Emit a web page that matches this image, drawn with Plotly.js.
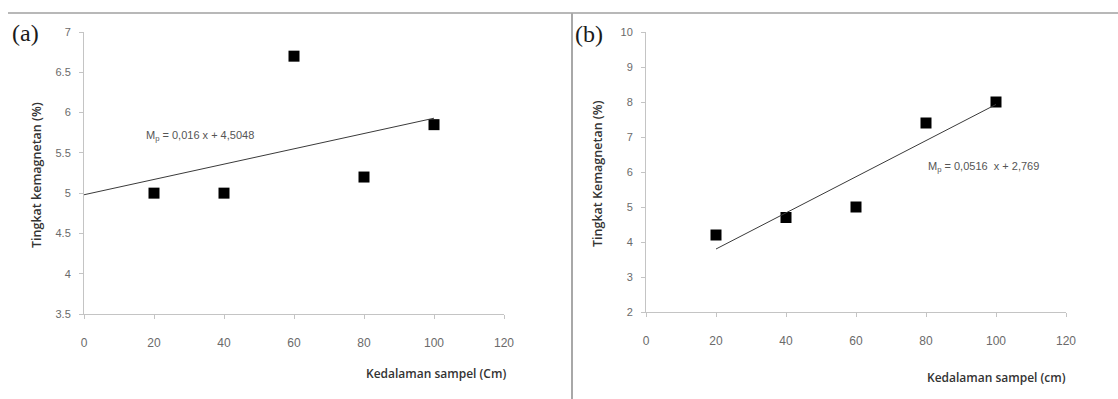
<!DOCTYPE html>
<html>
<head>
<meta charset="utf-8">
<script src="https://cdn.plot.ly/plotly-3.0.1.min.js"></script>
<style>html,body{margin:0;padding:0;background:#fff;}#chart{width:1118px;height:399px;}</style>
</head>
<body>
<div id="chart"></div>
<script>
// Panel (a)
const depthA = [20, 40, 60, 80, 100];
const magA = [5.0, 5.0, 6.7, 5.2, 5.85];
const trendAx = [0, 100];
const trendAy = [4.98, 5.93];
// Panel (b)
const depthB = [20, 40, 60, 80, 100];
const magB = [4.2, 4.7, 5.0, 7.4, 8.0];
const trendBx = [20, 100];
const trendBy = [3.80, 7.93];

const W = 1118, H = 399;
const px = v => v / W;
const py = v => 1 - v / H;

const tickFont = {family: 'Liberation Sans, Arial, sans-serif', size: 11, color: '#6a6a6a'};
const titleFont = {family: 'Open Sans, sans-serif', size: 12, color: '#333', weight: 600};

const traces = [
  {x: depthA, y: magA, mode: 'markers', type: 'scatter', xaxis: 'x', yaxis: 'y',
   marker: {symbol: 'square', size: 11, color: '#000'}},
  {x: trendAx, y: trendAy, mode: 'lines', type: 'scatter', xaxis: 'x', yaxis: 'y',
   line: {color: '#3a3a3a', width: 1}},
  {x: depthB, y: magB, mode: 'markers', type: 'scatter', xaxis: 'x2', yaxis: 'y2',
   marker: {symbol: 'square', size: 11, color: '#000'}},
  {x: trendBx, y: trendBy, mode: 'lines', type: 'scatter', xaxis: 'x2', yaxis: 'y2',
   line: {color: '#3a3a3a', width: 1}}
];

const axBase = {showline: true, linecolor: '#c4c4c4', linewidth: 1, showgrid: false, zeroline: false,
  ticks: 'outside', ticklen: 4, tickcolor: '#c4c4c4', tickfont: tickFont};
const xBase = Object.assign({}, axBase, {ticklabelstandoff: 14, tickfont: Object.assign({}, tickFont, {size: 12})});
const yBase = Object.assign({}, axBase, {ticklabelstandoff: 6});

const layout = {
  width: W, height: H,
  margin: {l: 0, r: 0, t: 0, b: 0},
  paper_bgcolor: '#fff', plot_bgcolor: '#fff',
  showlegend: false,
  xaxis: Object.assign({}, xBase, {domain: [px(84), px(504)], range: [0, 120], dtick: 20, anchor: 'y'}),
  yaxis: Object.assign({}, yBase, {domain: [py(314), py(32)], range: [3.5, 7], dtick: 0.5, anchor: 'x'}),
  xaxis2: Object.assign({}, xBase, {domain: [px(646), px(1066)], range: [0, 120], dtick: 20, anchor: 'y2'}),
  yaxis2: Object.assign({}, yBase, {domain: [py(312), py(32)], range: [2, 10], dtick: 1, anchor: 'x2'}),
  shapes: [
    {type: 'line', xref: 'paper', yref: 'paper', x0: px(8), x1: 1, y0: py(13), y1: py(13),
     line: {color: '#b8b8b8', width: 2}},
    {type: 'line', xref: 'paper', yref: 'paper', x0: px(572), x1: px(572), y0: py(13), y1: 0,
     line: {color: '#a8a8a8', width: 2}}
  ],
  annotations: [
    {text: '(a)', xref: 'paper', yref: 'paper', x: px(10), y: py(33), xanchor: 'left', yanchor: 'middle',
     showarrow: false, font: {family: 'Liberation Serif, serif', size: 24, color: '#1a1a1a'}},
    {text: '(b)', xref: 'paper', yref: 'paper', x: px(573), y: py(34), xanchor: 'left', yanchor: 'middle',
     showarrow: false, font: {family: 'Liberation Serif, serif', size: 24, color: '#1a1a1a'}},
    {text: 'M<sub>p</sub> = 0,016 x + 4,5048', xref: 'x', yref: 'y', x: 17, y: 5.71, xanchor: 'left', yanchor: 'middle',
     showarrow: false, font: {family: 'Liberation Sans, Arial, sans-serif', size: 11, color: '#555'}},
    {text: 'M<sub>p</sub> = 0,0516  x + 2,769', xref: 'x2', yref: 'y2', x: 80, y: 6.14, xanchor: 'left', yanchor: 'middle',
     showarrow: false, font: {family: 'Liberation Sans, Arial, sans-serif', size: 11, color: '#555'}},
    {text: 'Kedalaman sampel (Cm)', xref: 'paper', yref: 'paper', x: px(508), y: py(373), xanchor: 'right', yanchor: 'middle',
     showarrow: false, font: titleFont},
    {text: 'Kedalaman sampel (cm)', xref: 'paper', yref: 'paper', x: px(1068), y: py(377), xanchor: 'right', yanchor: 'middle',
     showarrow: false, font: titleFont},
    {text: 'Tingkat kemagnetan (%)', xref: 'paper', yref: 'paper', x: px(36), y: py(175), xanchor: 'center', yanchor: 'middle',
     textangle: -90, showarrow: false, font: Object.assign({}, titleFont, {size: 12.5})},
    {text: 'Tingkat Kemagnetan (%)', xref: 'paper', yref: 'paper', x: px(597), y: py(174), xanchor: 'center', yanchor: 'middle',
     textangle: -90, showarrow: false, font: Object.assign({}, titleFont, {size: 12.5})}
  ]
};

Plotly.newPlot('chart', traces, layout, {displayModeBar: false, staticPlot: true});
</script>
</body>
</html>
